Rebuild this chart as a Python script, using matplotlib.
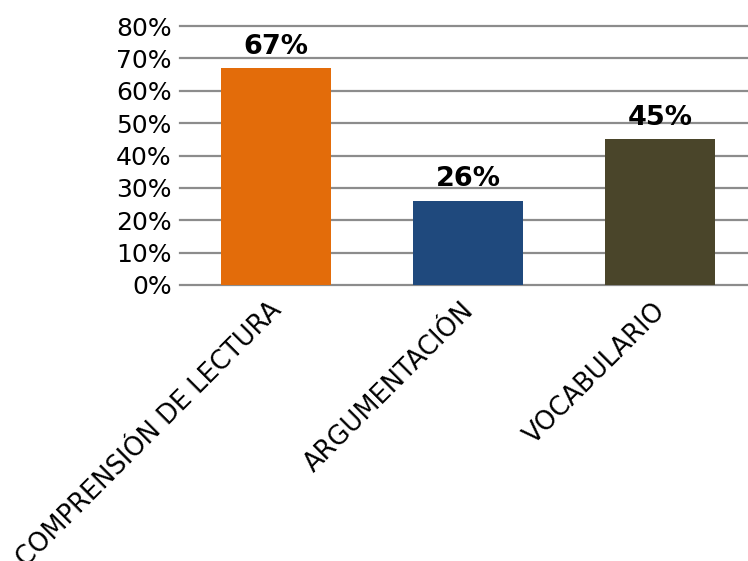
import matplotlib
matplotlib.use("Agg")
import matplotlib.pyplot as plt
import matplotlib.transforms as mtransforms
from matplotlib.ticker import FuncFormatter

categories = ["COMPRENSIÓN DE LECTURA", "ARGUMENTACIÓN", "VOCABULARIO"]
values = [0.67, 0.26, 0.45]
colors = ["#E36C0A", "#1F497D", "#4A452A"]
yticks = [0, 0.1, 0.2, 0.3, 0.4, 0.5, 0.6, 0.7, 0.8]

fig = plt.figure(figsize=(7.48, 5.61), dpi=100)
W, H = 748, 561
ax = fig.add_axes([180 / W, (H - 285) / H, 576 / W, 259 / H])

x = list(range(len(categories)))
ax.bar(x, values, width=0.573, color=colors, zorder=3)
ax.set_xlim(-0.5, 2.5)
ax.set_ylim(0, 0.8)
ax.set_yticks(yticks)
ax.yaxis.set_major_formatter(FuncFormatter(lambda v, p: f"{round(v * 100)}%"))
ax.grid(axis="y", color="#8c8c8c", linewidth=1.6, zorder=0)
for gl in ax.get_ygridlines():
    gl.set_clip_on(False)
ax.set_axisbelow(True)
for s in ax.spines.values():
    s.set_visible(False)
ax.tick_params(axis="both", length=0, labelsize=18, pad=6)
ax.set_xticks(x)
ax.set_xticklabels(categories, rotation=45, ha="right", rotation_mode="anchor", fontsize=18.5)
ax.tick_params(axis="x", pad=9)
off = mtransforms.ScaledTranslation(-7 / 100, 0, fig.dpi_scale_trans)
for lbl in ax.get_xticklabels():
    lbl.set_transform(lbl.get_transform() + off)

for xi, v in zip(x, values):
    ax.annotate(f"{round(v * 100)}%", (xi, v), xytext=(0, 6), textcoords="offset points",
                ha="center", va="bottom", fontsize=19.5, fontweight="bold")

fig.savefig("out.png", dpi=100)
